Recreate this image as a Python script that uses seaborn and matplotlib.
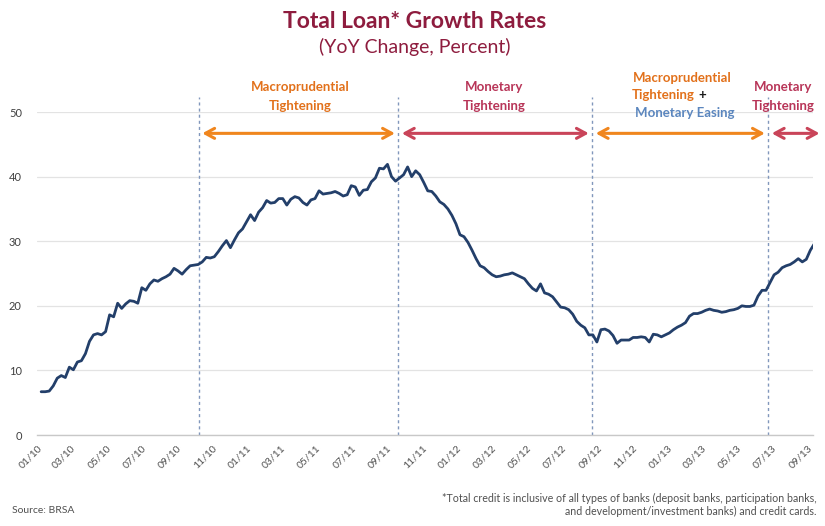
import matplotlib
matplotlib.use("Agg")
import matplotlib.pyplot as plt
import matplotlib.dates as mdates
import numpy as np
import pandas as pd
import seaborn as sns

# Weekly total loan growth, YoY %, Jan 2010 - Sep 2013
start_week = "2010-01-08"
loan_growth = [
    6.7, 6.7, 6.8, 7.6, 8.8, 9.2, 8.9, 10.5, 10.1, 11.3,
    11.5, 12.6, 14.5, 15.5, 15.7, 15.5, 16.0, 18.6, 18.3, 20.4,
    19.6, 20.3, 20.8, 20.7, 20.4, 22.8, 22.4, 23.4, 24.0, 23.8,
    24.2, 24.5, 24.9, 25.8, 25.4, 24.9, 25.6, 26.2, 26.3, 26.4,
    26.8, 27.5, 27.4, 27.6, 28.4, 29.3, 30.1, 29.0, 30.2, 31.3,
    31.9, 33.0, 34.1, 33.2, 34.5, 35.2, 36.3, 35.9, 36.0, 36.6,
    36.6, 35.6, 36.5, 36.9, 36.7, 36.0, 35.6, 36.4, 36.6, 37.8,
    37.3, 37.4, 37.5, 37.7, 37.4, 37.0, 37.2, 38.6, 38.4, 37.1,
    37.9, 38.0, 39.2, 39.8, 41.3, 41.2, 41.9, 40.0, 39.3, 39.8,
    40.3, 41.5, 40.0, 40.9, 40.3, 39.1, 37.8, 37.7, 37.0, 36.1,
    35.7, 35.0, 34.0, 32.7, 31.0, 30.7, 29.8, 28.6, 27.3, 26.2,
    25.9, 25.3, 24.8, 24.5, 24.6, 24.8, 24.9, 25.1, 24.8, 24.5,
    24.2, 23.4, 22.7, 22.3, 23.4, 22.0, 21.8, 21.4, 20.6, 19.8,
    19.7, 19.4, 18.7, 17.6, 17.0, 16.6, 15.5, 15.5, 14.4, 16.3,
    16.4, 16.1, 15.4, 14.2, 14.7, 14.7, 14.7, 15.1, 15.1, 15.2,
    15.1, 14.4, 15.6, 15.5, 15.2, 15.5, 15.8, 16.3, 16.7, 17.0,
    17.4, 18.4, 18.8, 18.8, 19.0, 19.3, 19.5, 19.3, 19.2, 19.0,
    19.1, 19.3, 19.4, 19.6, 20.0, 19.9, 19.9, 20.1, 21.5, 22.4,
    22.4, 23.6, 24.8, 25.2, 25.9, 26.2, 26.4, 26.8, 27.3, 26.8,
    27.2, 28.6, 29.6,
]

# Policy regime boundaries
regime_breaks = ["2010-10-09", "2011-09-21", "2012-08-23", "2013-06-25"]
regime_ends = ["2010-10-09", "2011-09-21", "2012-08-23", "2013-06-25", "2013-09-28"]
regime_colors = ["#F0861E", "#C94459", "#F0861E", "#C94459"]

y_ticks = [0, 10, 20, 30, 40, 50]
tick_dates = pd.date_range("2010-01-01", "2013-09-01", freq="2MS")

TITLE_RED = "#8E1C3E"
ORANGE_TXT = "#E2711B"
RED_TXT = "#B83558"
BLUE_TXT = "#5B86BE"
LINE_BLUE = "#233F6A"

df = pd.DataFrame({
    "week": pd.date_range(start_week, periods=len(loan_growth), freq="7D"),
    "growth": loan_growth,
})

sns.set_theme(style="white")
plt.rcParams["font.family"] = ["Lato", "DejaVu Sans"]

fig = plt.figure(figsize=(8.25, 5.26), dpi=100)
ax = fig.add_axes([0.045, 0.173, 0.94, 0.614])

ax.yaxis.grid(True, color="#E3E3E3", lw=0.9)
ax.set_axisbelow(True)

sns.lineplot(data=df, x="week", y="growth", color=LINE_BLUE, lw=2.0, ax=ax)

ax.set_xlim(pd.Timestamp("2010-01-01"), pd.Timestamp("2013-09-10"))
ax.set_ylim(0, 50)
ax.set_yticks(y_ticks)
ax.set_xticks(tick_dates)
ax.xaxis.set_major_formatter(mdates.DateFormatter("%m/%y"))
ax.set_xlabel("")
ax.set_ylabel("")

for side in ["left", "right", "top"]:
    ax.spines[side].set_visible(False)
ax.spines["bottom"].set_color("#C8C8C8")
ax.spines["bottom"].set_linewidth(1.0)

ax.tick_params(axis="y", length=0, pad=11, labelsize=8, labelcolor="#404040")
ax.tick_params(axis="x", direction="inout", length=6, width=0.9, color="#BDBDBD",
               labelsize=7.5, labelcolor="#505050", pad=3)
for lab in ax.get_xticklabels():
    lab.set_rotation(45)
    lab.set_ha("right")
    lab.set_rotation_mode("anchor")

# Regime boundaries
for d in regime_breaks:
    ax.plot([pd.Timestamp(d)] * 2, [0, 52.3], color="#8197BC", lw=1.0,
            ls=(0, (2.2, 2.2)), clip_on=False, zorder=1)

# Regime arrows
arrow_y = 46.7
for i in range(4):
    ax.annotate("", xy=(pd.Timestamp(regime_ends[i + 1]), arrow_y),
                xytext=(pd.Timestamp(regime_ends[i]), arrow_y),
                arrowprops=dict(arrowstyle="<->,head_length=0.55,head_width=0.3",
                                color=regime_colors[i], lw=2.2,
                                shrinkA=2.5, shrinkB=2.5),
                annotation_clip=False)


def label(x, y, s, color, ha="center"):
    ax.text(pd.Timestamp(x), y, s, color=color, ha=ha, va="center",
            fontsize=9.5, fontweight="bold", clip_on=False)


label("2011-04-03", 53.9, "Macroprudential", ORANGE_TXT)
label("2011-04-03", 51.0, "Tightening", ORANGE_TXT)
label("2012-03-06", 53.9, "Monetary", RED_TXT)
label("2012-03-06", 51.0, "Tightening", RED_TXT)
label("2013-01-27", 55.3, "Macroprudential", ORANGE_TXT)
label("2013-02-17", 52.6, "Tightening", ORANGE_TXT, ha="right")
label("2013-02-23", 52.6, "+", "#1A1A1A", ha="left")
label("2013-01-30", 49.9, "Monetary Easing", BLUE_TXT)
label("2013-07-20", 53.9, "Monetary", RED_TXT)
label("2013-07-20", 51.0, "Tightening", RED_TXT)

fig.text(0.502, 0.960, "Total Loan* Growth Rates", ha="center", va="center",
         fontsize=16.5, fontweight="bold", color=TITLE_RED)
fig.text(0.503, 0.910, "(YoY Change, Percent)", ha="center", va="center",
         fontsize=14, color=TITLE_RED)

fig.text(0.015, 0.030, "Source: BRSA", ha="left", va="center", fontsize=7.5,
         color="#505050")
fig.text(0.99, 0.040,
         "*Total credit is inclusive of all types of banks (deposit banks, participation banks,\n"
         "and development/investment banks) and credit cards.",
         ha="right", va="center", fontsize=7.7, color="#505050", linespacing=1.25,
         multialignment="right")

fig.savefig("out.png", dpi=100)
